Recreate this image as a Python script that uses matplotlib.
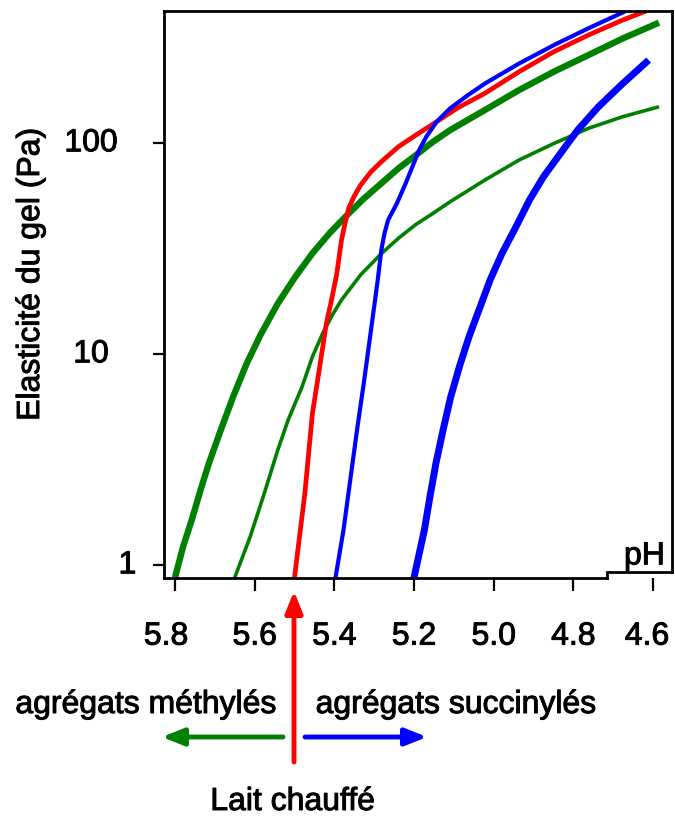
import matplotlib
matplotlib.use('Agg')
import matplotlib.pyplot as plt
import matplotlib.patheffects as pe
from matplotlib.ticker import NullLocator
from matplotlib.transforms import ScaledTranslation

plt.rcParams['font.family'] = ['Liberation Sans', 'DejaVu Sans']

# x axis (pH, reversed) and y axis (gel elasticity, log)
ph_ticks = [5.8, 5.6, 5.4, 5.2, 5.0, 4.8, 4.6]
ph_labels = ['5.8', '5.6', '5.4', '5.2', '5.0', '4.8', '4.6']
g_ticks = [1, 10, 100]
g_labels = ['1', '10', '100']

# methylated aggregates (green), thick and thin
ph_meth_a = [5.80, 5.780, 5.758, 5.736, 5.715, 5.685, 5.654, 5.620, 5.585, 5.542, 5.498, 5.455,
             5.412, 5.368, 5.325, 5.282, 5.239, 5.195, 5.152, 5.109, 5.022, 4.936, 4.849,
             4.762, 4.676, 4.585]
g_meth_a = [0.875, 1.22, 1.64, 2.27, 3.04, 4.38, 6.3, 9.05, 12.4, 17.4, 23.3, 30.1,
            37.5, 45.7, 54.9, 64.6, 76.1, 88.0, 101.8, 115.6, 143.8, 178.9, 218.5,
            262, 314, 373]
ph_meth_b = [5.65, 5.611, 5.576, 5.542, 5.516, 5.481, 5.455, 5.429, 5.403, 5.382, 5.334, 5.282,
             5.239, 5.195, 5.152, 5.109, 5.022, 4.936, 4.849, 4.762, 4.676, 4.585]
g_meth_b = [0.875, 1.37, 2.19, 3.52, 4.88, 7.02, 9.74, 12.6, 15.6, 18.1, 23.8, 30.0,
            35.5, 41.3, 46.6, 52.9, 67, 83.4, 99.8, 117.8, 133.7, 149]

# heated milk (red)
ph_lait = [5.50, 5.474, 5.455, 5.438, 5.420, 5.407, 5.394, 5.382, 5.373, 5.364, 5.351, 5.334,
           5.308, 5.282, 5.239, 5.195, 5.143, 5.092, 5.022, 4.936, 4.849, 4.762, 4.676, 4.611]
g_lait = [0.875, 2.19, 5.25, 8.42, 14.0, 18.1, 24.0, 34.8, 41.8, 49.2, 55.8, 63.4,
          73.3, 81.8, 96.4, 109.5, 126.6, 146.6, 172.6, 218.5, 271.7, 326, 384, 428]

# succinylated aggregates (blue), thin and thick
ph_succ_a = [5.397, 5.377, 5.360, 5.343, 5.325, 5.308, 5.291, 5.282, 5.274, 5.265, 5.243,
             5.221, 5.204, 5.187, 5.169, 5.143, 5.109, 5.065, 5.022, 4.936, 4.849, 4.762, 4.663]
g_succ_a = [0.875, 1.47, 2.54, 4.38, 7.55, 13.0, 22.5, 31.2, 37.5, 43.3, 51.9,
            64.6, 77.5, 92.9, 107.5, 126.6, 146.6, 169, 192, 239, 292, 351, 428]
ph_succ_b = [5.20, 5.174, 5.160, 5.145, 5.127, 5.108, 5.086, 5.062, 5.037, 5.009, 4.979, 4.944,
             4.910, 4.875, 4.832, 4.789, 4.737, 4.676, 4.611]
g_succ_b = [0.875, 1.47, 2.11, 3.04, 4.38, 6.27, 8.74, 12.1, 16.2, 22.5, 30.1, 40.2,
            53.9, 69.4, 89.7, 115.6, 149, 192, 248]

GREEN = '#008000'
RED = '#ff0000'
BLUE = '#0000ff'
FS = 23
BOLDISH = [pe.withStroke(linewidth=0.7, foreground='black')]

W, H = 675, 816
fig = plt.figure(figsize=(W / 100, H / 100), dpi=100)
ax = fig.add_axes([164 / W, (H - 578) / H, (672 - 164) / W, (578 - 11) / H])

kw = dict(solid_capstyle='butt', solid_joinstyle='round')
ax.plot(ph_meth_a, g_meth_a, color=GREEN, lw=4.6, **kw)
ax.plot(ph_meth_b, g_meth_b, color=GREEN, lw=2.6, **kw)
ax.plot(ph_lait, g_lait, color=RED, lw=3.4, **kw)
ax.plot(ph_succ_a, g_succ_a, color=BLUE, lw=3.0, **kw)
ax.plot(ph_succ_b, g_succ_b, color=BLUE, lw=5.0, **kw)

ax.set_yscale('log')
ax.set_xlim(5.8276, 4.5523)
ax.set_ylim(0.871, 423.7)
ax.yaxis.set_minor_locator(NullLocator())
ax.set_yticks(g_ticks)
ax.set_yticklabels([])
ax.set_xticks(ph_ticks)
ax.set_xticklabels(ph_labels)
ax.tick_params(axis='x', direction='out', length=9.4, width=1.6, pad=22, labelsize=FS)
ax.tick_params(axis='y', direction='out', length=8, width=1.6)
xlabels = ax.get_xticklabels()
for t in xlabels:
    t.set_path_effects(BOLDISH)
# end labels sit slightly inward in the original
xlabels[0].set_transform(xlabels[0].get_transform() + ScaledTranslation(-0.09, 0, fig.dpi_scale_trans))
xlabels[-1].set_transform(xlabels[-1].get_transform() + ScaledTranslation(-0.06, 0, fig.dpi_scale_trans))
for s in ax.spines.values():
    s.set_linewidth(2)

# y tick labels, placed a bit away from the axis
ytr = ax.get_yaxis_transform()
for v, lab in zip(g_ticks, g_labels):
    xpos = -0.072 if lab == '1' else -0.1437
    ax.text(xpos, v, lab, transform=ytr, ha='center', va='center', fontsize=FS,
            path_effects=BOLDISH)

# pH label in its little box at the bottom right corner
ax.spines['bottom'].set_bounds(5.8276, 4.715)
ax.spines['right'].set_bounds(0.929, 423.7)
ax.plot([0.872, 0.872, 1.0], [0, 0.0106, 0.0106], transform=ax.transAxes,
        color='black', lw=2, clip_on=False, solid_joinstyle='miter')
ax.text(0.986, 0.024, 'pH', transform=ax.transAxes, ha='right', va='baseline', fontsize=FS,
        path_effects=BOLDISH)

fig.text(31 / W, (H - 274) / H, 'Elasticité du gel (Pa)', rotation=90,
         ha='center', va='center', fontsize=FS, path_effects=BOLDISH)

# arrows and captions under the axis
def arrow(tail, tip, color):
    ax.annotate('', xy=(tip[0], H - tip[1]), xytext=(tail[0], H - tail[1]),
                xycoords='figure pixels', textcoords='figure pixels',
                annotation_clip=False,
                arrowprops=dict(arrowstyle='-|>,head_length=0.65,head_width=0.26',
                                color=color, lw=3.5, mutation_scale=20,
                                shrinkA=0, shrinkB=0))

arrow((294, 762), (294, 591), RED)
arrow((283, 737), (162, 737), GREEN)
arrow((305, 737), (427, 737), BLUE)

for x, y, s in [(146, 713, 'agrégats méthylés'), (456, 713, 'agrégats succinylés'),
                (293, 810, 'Lait chauffé')]:
    fig.text(x / W, (H - y) / H, s, ha='center', va='baseline', fontsize=FS,
             path_effects=BOLDISH)

fig.savefig('out.png', dpi=100)
